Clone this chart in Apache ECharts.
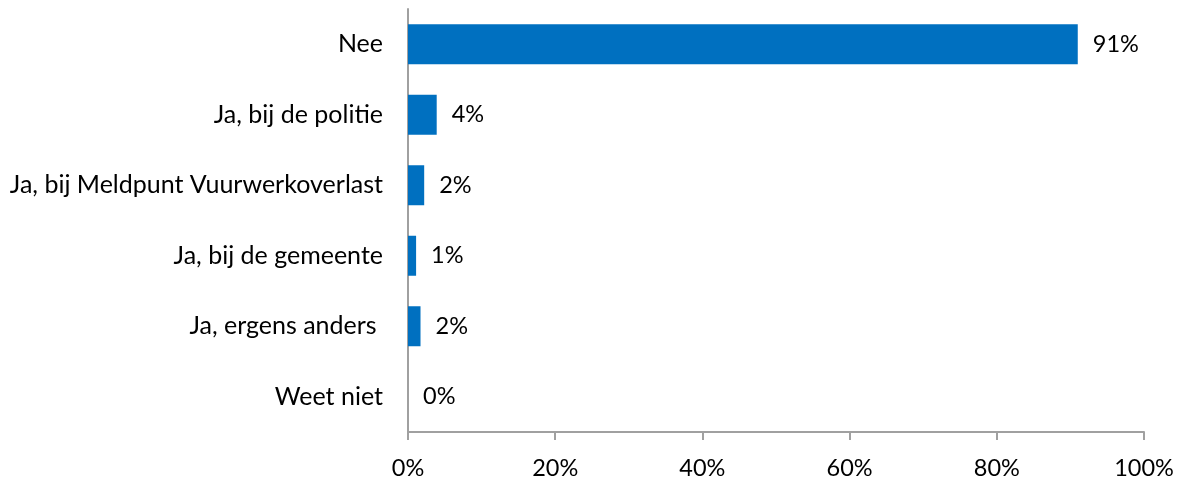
<!DOCTYPE html>
<html>
<head>
<meta charset="utf-8">
<script src="https://cdn.jsdelivr.net/npm/echarts@6/dist/echarts.min.js"></script>
<style>
html,body{margin:0;padding:0;background:#fff;}
#chart{width:1180px;height:480px;}
</style>
</head>
<body>
<div id="chart"></div>
<script>
var categories = ['Nee', 'Ja, bij de politie', 'Ja, bij Meldpunt Vuurwerkoverlast', 'Ja, bij de gemeente', 'Ja, ergens anders ', 'Weet niet'];
var values = [91.0, 3.9, 2.2, 1.1, 1.7, 0];
var xTicks = {min: 0, max: 100, interval: 20};

var FONT = 'Lato';
var chart = echarts.init(document.getElementById('chart'), null, {renderer: 'canvas'});
chart.setOption({
  animation: false,
  grid: {left: 408, right: 36, top: 9, bottom: 47, containLabel: false},
  xAxis: {
    type: 'value',
    min: xTicks.min, max: xTicks.max, interval: xTicks.interval,
    axisLine: {show: true, lineStyle: {color: '#a0a0a0', width: 2}},
    axisTick: {show: true, length: 8, lineStyle: {color: '#a0a0a0', width: 2}},
    splitLine: {show: false},
    axisLabel: {formatter: '{value}%', color: '#000', fontFamily: FONT, fontSize: 23.5, margin: 24}
  },
  yAxis: {
    type: 'category',
    data: categories,
    inverse: true,
    axisLine: {show: true, lineStyle: {color: '#a0a0a0', width: 2}},
    axisTick: {show: false},
    axisLabel: {color: '#000', fontFamily: FONT, fontSize: 25, margin: 25}
  },
  series: [{
    type: 'bar',
    data: values,
    barWidth: 40,
    itemStyle: {color: '#0070C0'},
    label: {
      show: true, position: 'right', distance: 15,
      color: '#000', fontFamily: FONT, fontSize: 23.5,
      formatter: function (p) { return Math.round(p.value) + '%'; }
    }
  }]
});
</script>
</body>
</html>
